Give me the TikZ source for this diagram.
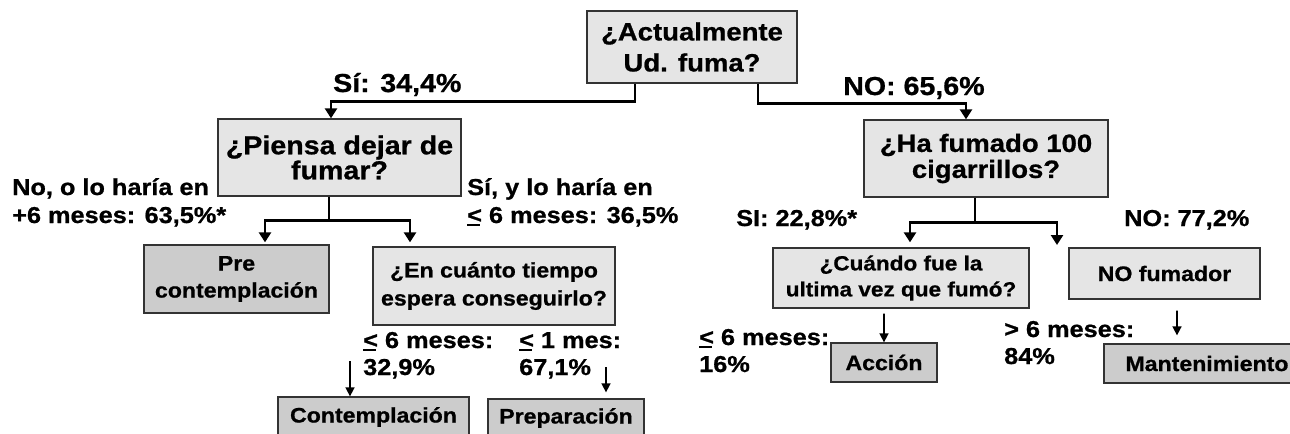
\documentclass[tikz,border=0pt]{standalone}
\usepackage{fontspec}
\setmainfont{Liberation Sans}[FakeStretch=1.1,BoldFeatures={FakeBold=0.8}]
\usepackage{tikz}
\usetikzlibrary{arrows.meta,shapes}
\definecolor{qgray}{gray}{0.9}
\definecolor{sgray}{gray}{0.8}
\newcommand{\lequ}{\rlap{\rule[-3bp]{0.55em}{1.8bp}}<}

\begin{document}
\begin{tikzpicture}[
  qbox/.style={draw=black!80,line width=1.3bp,fill=qgray,inner sep=0pt,align=center},
  sbox/.style={qbox,fill=sgray},
  lbl/.style={anchor=base west,inner sep=0pt,align=left},
  conn/.style={-{Triangle[length=10bp,width=12bp]},line width=2.6bp},
  sarr/.style={-{Triangle[length=9bp,width=9bp]},line width=1.6bp},
  bigtext/.style={font=\bfseries\fontsize{26bp}{31bp}\selectfont},
  midtext/.style={font=\bfseries\fontsize{23bp}{28bp}\selectfont},
  smalltext/.style={font=\bfseries\fontsize{21bp}{27bp}\selectfont}]

\useasboundingbox (0,0) rectangle (1290bp,-434bp);
\fill [white] (0,0) rectangle (1290bp,-434bp);
\clip (0,0) rectangle (1290bp,-434bp);

\node (act) at (692bp,-47bp)[qbox,minimum width=210bp,minimum height=72bp,font=\bfseries\fontsize{25bp}{31bp}\selectfont] {¿Actualmente\\Ud. fuma?};
\node (piensa) at (339.5bp,-157.5bp)[qbox,minimum width=243bp,minimum height=77bp,font=\bfseries\fontsize{26bp}{25bp}\selectfont] {¿Piensa dejar de\\fumar?};
\node (ha) at (986bp,-158.5bp)[qbox,minimum width=244bp,minimum height=77bp,font=\bfseries\fontsize{25bp}{26bp}\selectfont] {¿Ha fumado 100\\cigarrillos?};
\node (pre) at (236.5bp,-279bp)[sbox,smalltext,minimum width=185bp,minimum height=68bp] {Pre\\contemplación};
\node (encu) at (494bp,-286bp)[qbox,minimum width=242bp,minimum height=78bp,font=\bfseries\fontsize{21bp}{28bp}\selectfont] {¿En cuánto tiempo\\espera conseguirlo?};
\node (cuando) at (901bp,-278bp)[qbox,minimum width=256bp,minimum height=60bp,font=\bfseries\fontsize{20.5bp}{26bp}\selectfont] {¿Cuándo fue la\\ultima vez que fumó?};
\node (nofum) at (1164.5bp,-273.5bp)[qbox,smalltext,minimum width=191bp,minimum height=51bp] {NO fumador};
\node (accion) at (884bp,-362.5bp)[sbox,smalltext,minimum width=106bp,minimum height=39bp] {Acción};
\node (mant) at (1207bp,-363.5bp)[sbox,smalltext,minimum width=206bp,minimum height=39bp] {Mantenimiento};
\node (contemp) at (373.5bp,-417bp)[sbox,smalltext,minimum width=191bp,minimum height=40bp] {Contemplación};
\node (prep) at (566bp,-418bp)[sbox,smalltext,minimum width=156bp,minimum height=38bp] {Preparación};

\node (lsi) at (333bp,-92bp)[lbl,bigtext] {Sí: 34,4\%};
\node (lno) at (843bp,-95bp)[lbl,bigtext] {NO: 65,6\%};
\node (lnodejar) at (12bp,-223bp)[lbl,midtext] {No, o lo haría en\\+6 meses: 63,5\%*};
\node (lsidejar) at (467bp,-223bp)[lbl,midtext] {Sí, y lo haría en\\\lequ{} 6 meses: 36,5\%};
\node (lsi100) at (736bp,-226bp)[lbl,midtext] {SI: 22,8\%*};
\node (lno100) at (1124bp,-226bp)[lbl,midtext] {NO: 77,2\%};
\node (lseis) at (363bp,-375bp)[lbl,font=\bfseries\fontsize{23bp}{27bp}\selectfont] {\lequ{} 6 meses:\\32,9\%};
\node (lmes) at (519bp,-375bp)[lbl,font=\bfseries\fontsize{23bp}{27bp}\selectfont] {\lequ{} 1 mes:\\67,1\%};
\node (lacc) at (699bp,-372bp)[lbl,font=\bfseries\fontsize{23bp}{27bp}\selectfont] {\lequ{} 6 meses:\\16\%};
\node (lmant) at (1004bp,-364bp)[lbl,font=\bfseries\fontsize{23bp}{27bp}\selectfont] {> 6 meses:\\84\%};

\draw [conn] ([xshift=-57bp]act.south) -- ++(0,-18bp) -| ([xshift=-8.5bp]piensa.north);
\draw [conn] ([xshift=66bp]act.south) -- ++(0,-20bp) -| ([xshift=-20bp]ha.north);

\draw [line width=2.6bp] ([xshift=-10.5bp]piensa.south) -- ++(0,-24bp) coordinate (pj);
\draw [conn] (pj) -| ([xshift=28.5bp,yshift=2bp]pre.north);
\draw [conn] (pj) -| ([xshift=-84bp,yshift=4bp]encu.north);

\draw [line width=2.6bp] ([xshift=-11bp]ha.south) -- ++(0,-25bp) coordinate (hj);
\coordinate (nj) at (1057bp,-245bp);
\draw [conn] (hj) -| ([xshift=9bp,yshift=5bp]cuando.north);
\draw [conn] (hj) -| (nj);

\draw [sarr] ([xshift=-17bp,yshift=-5bp]cuando.south) -- (accion.north);
\draw [sarr] ([xshift=12.5bp,yshift=-11bp]nofum.south) -- ([xshift=-30bp,yshift=8bp]mant.north);
\draw [sarr] ([xshift=-23.5bp,yshift=35bp]contemp.north) -- ([xshift=-23.5bp]contemp.north);
\draw [sarr] ([xshift=40bp,yshift=31bp]prep.north) -- ([xshift=40bp,yshift=6bp]prep.north);
\end{tikzpicture}
\end{document}
